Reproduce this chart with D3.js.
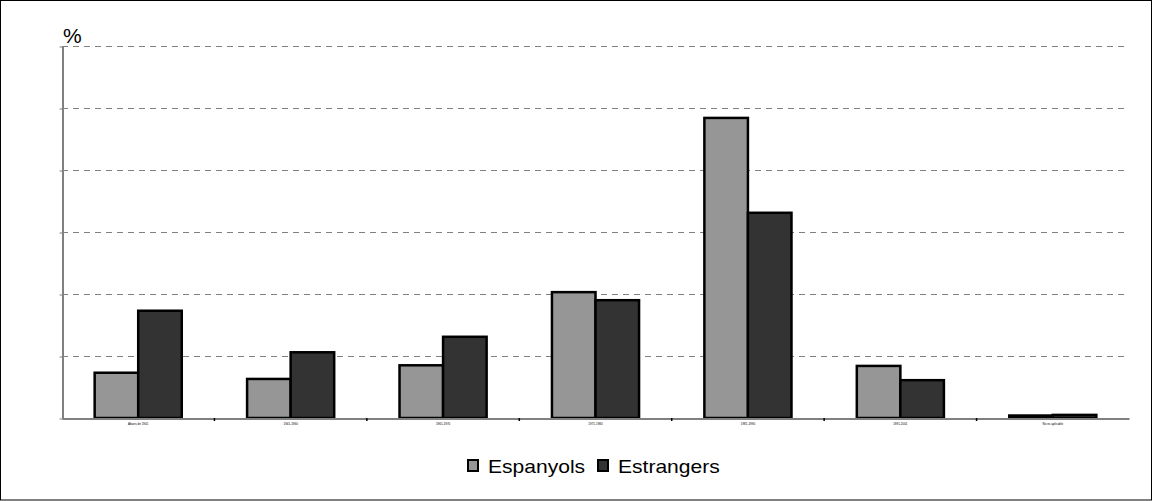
<!DOCTYPE html>
<html><head><meta charset="utf-8">
<script src="https://cdn.jsdelivr.net/npm/d3@7"></script>
<style>body{margin:0;background:#fff}svg{display:block}</style>
</head><body>
<script>
const categories = ["Abans de 1941","1941-1960","1961-1970","1971-1980","1981-1990","1991-2001","No es aplicable"];
const seriesNames = ["Espanyols","Estrangers"];
const espanyols = [7.3, 6.3, 8.5, 20.3, 48.4, 8.4, 0.4];
const estrangers = [17.3, 10.6, 13.1, 19.0, 33.1, 6.1, 0.5];
const yTicks = [0,10,20,30,40,50,60];
const colors = ["#969696","#333333"];

const W=1153,H=501;
const svg=d3.select("body").append("svg").attr("width",W).attr("height",H);
svg.append("rect").attr("x",0.5).attr("y",0.5).attr("width",W-2).attr("height",H-1.5).attr("fill","#fff").attr("stroke","#000");

const m={l:62,r:1129,t:46,b:418};
const x=d3.scaleBand().domain(categories).range([m.l,m.r]);
const xs=d3.scaleBand().domain(seriesNames).range([0,x.bandwidth()]).paddingInner(0).paddingOuter(0.75);
const y=d3.scaleLinear().domain([0,60]).range([m.b,m.t]);

// gridlines
svg.append("g").selectAll("line").data(yTicks.filter(d=>d>0)).join("line")
  .attr("x1",m.l).attr("x2",m.r).attr("y1",d=>Math.round(y(d))+0.5).attr("y2",d=>Math.round(y(d))+0.5)
  .attr("stroke","#808080").attr("stroke-dasharray","6,5");

// y axis
const ya=svg.append("g").attr("transform",`translate(${m.l+0.5},0.5)`)
  .call(d3.axisLeft(y).tickValues(yTicks).tickFormat("").tickSize(3).tickSizeOuter(0));
ya.select(".domain").attr("stroke","#808080").attr("stroke-width",2);
ya.selectAll(".tick line").attr("stroke","#808080");

// bars
const data=categories.map((c,i)=>({c,vals:[espanyols[i],estrangers[i]]}));
const g=svg.append("g");
data.forEach(d=>{
  seriesNames.forEach((s,j)=>{
    const v=d.vals[j];
    g.append("rect")
      .attr("x",x(d.c)+xs(s)).attr("y",y(v))
      .attr("width",xs.bandwidth()).attr("height",y(0)-y(v))
      .attr("fill",colors[j]).attr("stroke","#000").attr("stroke-width",2.5);
  });
});

// x axis
const xa=svg.append("g").attr("transform",`translate(0,${m.b+0.5})`)
  .call(d3.axisBottom(x).tickSize(0).tickSizeOuter(0));
xa.select(".domain").attr("stroke","#808080").attr("stroke-width",2);
xa.selectAll("text").attr("font-family","Liberation Sans, Arial").attr("font-size",3).attr("fill","#000").attr("dy","1.3em");
// category boundary ticks
svg.append("g").selectAll("line").data(categories.slice(1)).join("line")
  .attr("x1",d=>x(d)).attr("x2",d=>x(d)).attr("y1",m.b).attr("y2",m.b+3)
  .attr("stroke","#000").attr("stroke-width",1.5);

// % label
svg.append("text").attr("x",63).attr("y",43).text("%")
  .attr("font-family","Liberation Sans, Arial").attr("font-size",21);

// legend
const lg=svg.append("g").attr("font-family","Liberation Sans, Arial").attr("font-size",18);
const items=[{n:"Espanyols",x:468},{n:"Estrangers",x:598}];
items.forEach((it,i)=>{
  lg.append("rect").attr("x",it.x).attr("y",460).attr("width",10).attr("height",11)
    .attr("fill",colors[i]).attr("stroke","#000").attr("stroke-width",2);
  lg.append("text").attr("transform",`translate(${it.x+20},473) scale(1.17,1)`).text(it.n);
});
</script>
</body></html>
